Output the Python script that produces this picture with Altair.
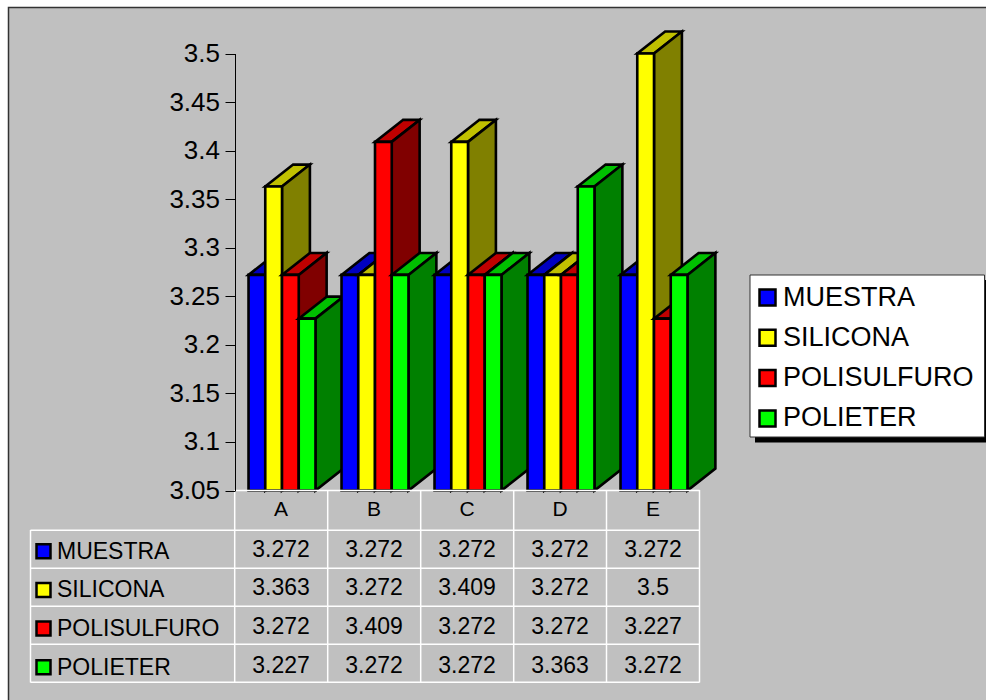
import altair as alt
import pandas as pd

# Chart values, one list per series across the five categories
CATEGORIES = ["A", "B", "C", "D", "E"]
SERIES = ["MUESTRA", "SILICONA", "POLISULFURO", "POLIETER"]
MUESTRA = [3.272, 3.272, 3.272, 3.272, 3.272]
SILICONA = [3.363, 3.272, 3.409, 3.272, 3.5]
POLISULFURO = [3.272, 3.409, 3.272, 3.272, 3.227]
POLIETER = [3.227, 3.272, 3.272, 3.363, 3.272]
VALUES = [MUESTRA, SILICONA, POLISULFURO, POLIETER]
Y_TICKS = [3.05, 3.1, 3.15, 3.2, 3.25, 3.3, 3.35, 3.4, 3.45, 3.5]

FRONT = ["#0000FF", "#FFFF00", "#FF0000", "#00FF00"]
TOP = ["#0000C0", "#C0C000", "#C00000", "#00C000"]
SIDE = ["#000080", "#808000", "#800000", "#008000"]

FONT = "Liberation Sans"
BASE = 3.05
BAR_W = 0.18            # bar width in category units
GROUP_PAD = 0.14        # gap before the first bar of a category
DEPTH_X = 0.30          # extrusion in category units
DEPTH_Y = 0.0226        # extrusion in value units

x_scale = alt.Scale(domain=[0, 5], range=[235.5, 700.5], nice=False, zero=False)
y_scale = alt.Scale(domain=[3.05, 3.5], range=[490.5, 53.5], nice=False, zero=False)
y_axis = alt.Axis(
    values=Y_TICKS, format=".2~f", title=None, grid=False, offset=-235, zindex=1,
    domainColor="#000000", domainWidth=1, tickColor="#000000", tickWidth=1, tickSize=10,
    labelFont=FONT, labelFontSize=26, labelColor="#000000", labelPadding=5.5,
)


def pos_x(field):
    return alt.X(f"{field}:Q", scale=x_scale, axis=None)


def pos_y(field):
    # every bar layer carries the same axis so that Vega-Lite merges them into one
    return alt.Y(f"{field}:Q", scale=y_scale, axis=y_axis)


def pixel_x(field):
    return alt.X(f"{field}:Q", scale=None, axis=None)


def pixel_y(field):
    return alt.Y(f"{field}:Q", scale=None, axis=None)


def box(xa, xb, ya, yb):
    return pd.DataFrame({"xa": [xa], "xb": [xb], "ya": [ya], "yb": [yb]})


def box_encoding(chart):
    return chart.encode(x=pixel_x("xa"), x2="xb:Q", y=pixel_y("ya"), y2="yb:Q")


# Each bar is three faces, painted left to right so neighbours overlap correctly
bar_layers = []
for c in range(len(CATEGORIES)):
    for s in range(len(SERIES)):
        v = VALUES[s][c]
        x0 = c + GROUP_PAD + s * BAR_W
        x1 = x0 + BAR_W
        outline = dict(stroke="#000000", strokeWidth=2.6, strokeJoin="miter")
        top = pd.DataFrame({
            "y": [v, v + DEPTH_Y],
            "xa": [x0, x0 + DEPTH_X],
            "xb": [x1, x1 + DEPTH_X],
        })
        side = pd.DataFrame({
            "x": [x1, x1 + DEPTH_X],
            "ya": [v, v + DEPTH_Y],
            "yb": [BASE, BASE + DEPTH_Y],
        })
        front = pd.DataFrame({"xa": [x0], "xb": [x1], "ya": [v], "yb": [BASE]})
        bar_layers.append(
            alt.Chart(top).mark_area(orient="horizontal", color=TOP[s], opacity=1, **outline).encode(
                y=pos_y("y"), x=pos_x("xa"), x2="xb:Q"
            )
        )
        bar_layers.append(
            alt.Chart(side).mark_area(orient="vertical", color=SIDE[s], opacity=1, **outline).encode(
                x=pos_x("x"), y=pos_y("ya"), y2="yb:Q"
            )
        )
        bar_layers.append(
            alt.Chart(front).mark_rect(color=FRONT[s], **outline).encode(
                x=pos_x("xa"), x2="xb:Q", y=pos_y("ya"), y2="yb:Q"
            )
        )
bars = alt.layer(*bar_layers)

# Data table under the plot
cell_x = alt.X(
    "category:N",
    scale=alt.Scale(type="band", domain=CATEGORIES, range=[234.5, 699.5], paddingInner=0, paddingOuter=0),
    axis=None,
)
cell_y = alt.Y(
    "series:N",
    scale=alt.Scale(type="band", domain=SERIES, range=[530.5, 685], paddingInner=0, paddingOuter=0),
    axis=None,
)

cells = pd.DataFrame([
    {"category": cat, "series": name, "label": str(VALUES[s][c])}
    for s, name in enumerate(SERIES)
    for c, cat in enumerate(CATEGORIES)
])
keys = pd.DataFrame({"series": SERIES, "kx": [43.5] * 4, "tx": [57] * 4})
grid = pd.DataFrame(
    [{"xa": x, "xb": x, "ya": 490, "yb": 682.5} for x in (234.7, 327.7, 420.7, 513.7, 606.5, 699.5)]
    + [{"xa": 30.5, "xb": 30.5, "ya": 530, "yb": 682.5}]
    + [{"xa": 234.7, "xb": 699.5, "ya": 490.5, "yb": 490.5}]
    + [{"xa": 30.5, "xb": 699.5, "ya": y, "yb": y} for y in (530.3, 568.3, 606.3, 644.3, 682.3)]
)

table = alt.layer(
    alt.Chart(grid).mark_rule(color="#FFFFFF", strokeWidth=1.5).encode(
        x=pixel_x("xa"), x2="xb:Q", y=pixel_y("ya"), y2="yb:Q"
    ),
    alt.Chart(pd.DataFrame({"category": CATEGORIES})).mark_text(
        font=FONT, fontSize=21, color="#000000"
    ).encode(x=cell_x, y=alt.value(510), text="category:N"),
    alt.Chart(cells).mark_text(font=FONT, fontSize=23, color="#000000").encode(
        x=cell_x, y=cell_y, text="label:N"
    ),
    alt.Chart(keys).mark_text(font=FONT, fontSize=23, color="#000000", align="left", dy=2).encode(
        x=pixel_x("tx"), y=cell_y, text="series:N"
    ),
    alt.Chart(keys).mark_square(
        size=196, opacity=1, stroke="#000000", strokeWidth=2.5, yOffset=1.5
    ).encode(
        x=pixel_x("kx"),
        y=cell_y,
        color=alt.Color(
            "series:N",
            scale=alt.Scale(domain=SERIES, range=FRONT),
            legend=alt.Legend(
                title=None, orient="none", legendX=750, legendY=276.5, zindex=1,
                padding=7.5, rowPadding=12.3,
                symbolType="square", symbolSize=256, symbolStrokeColor="#000000",
                symbolStrokeWidth=2.5, symbolOpacity=1, symbolOffset=-3.5,
                labelFont=FONT, labelFontSize=27, labelColor="#000000",
                labelOffset=2, labelLimit=300,
            ),
        ),
    ),
)

backdrop = box_encoding(
    alt.Chart(box(8.5, 1100, 7.5, 800)).mark_rect(fill="#C0C0C0", stroke="#333333", strokeWidth=1.5)
)
# Drop shadow and white panel behind the legend entries
legend_shadow = box_encoding(alt.Chart(box(755, 990, 280, 442.5)).mark_rect(color="#000000"))
legend_panel = box_encoding(
    alt.Chart(box(750, 984.5, 275, 437)).mark_rect(fill="#FFFFFF", stroke="#333333", strokeWidth=1)
)

chart = (
    alt.layer(backdrop, bars, table, legend_shadow, legend_panel)
    .resolve_scale(x="independent", y="independent")
    .properties(
        width=986, height=700, padding=0, background="#FFFFFF",
        autosize=alt.AutoSizeParams(type="none"),
    )
    .configure_view(stroke=None)
)

chart.save("out.html", embed_options={"renderer": "svg", "actions": False})
